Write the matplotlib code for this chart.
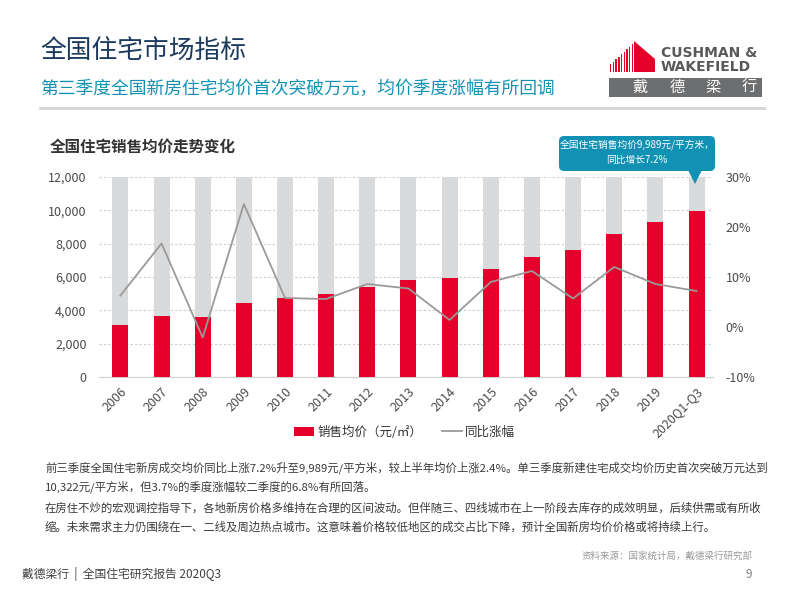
import matplotlib.pyplot as plt
from matplotlib.patches import Patch, FancyBboxPatch, Polygon, Rectangle
from matplotlib.lines import Line2D
from matplotlib.ticker import FuncFormatter

plt.rcParams['font.family'] = ['Noto Sans CJK SC', 'DejaVu Sans']

years = ['2006', '2007', '2008', '2009', '2010', '2011', '2012', '2013',
         '2014', '2015', '2016', '2017', '2018', '2019', '2020Q1-Q3']
price = [3119, 3645, 3576, 4459, 4725, 4993, 5430, 5850,
         5933, 6473, 7203, 7614, 8553, 9310, 9989]
growth = [6.3, 16.7, -2.1, 24.6, 5.8, 5.6, 8.6, 7.7,
          1.4, 9.0, 11.2, 5.7, 12.0, 8.6, 7.2]

red = '#e4002b'
bg_gray = '#d9dadb'
line_gray = '#9a9a9a'
teal = '#1192b5'
navy = '#1b3a5e'
tick_col = '#4a4a4a'

fig = plt.figure(figsize=(8, 6), dpi=100)
fig.patch.set_facecolor('white')

# chart
ax = fig.add_axes([99 / 800, 1 - 377 / 600, 614 / 800, 200 / 600])
x = list(range(len(years)))
ax.bar(x, [12000] * len(x), width=0.39, color=bg_gray, zorder=2)
ax.bar(x, price, width=0.39, color=red, zorder=3)
ax.set_ylim(0, 12000)
ax.set_xlim(-0.52, 14.4)
ax.set_yticks(range(0, 12001, 2000))
ax.yaxis.set_major_formatter(FuncFormatter(lambda v, p: f'{int(v):,}'))
ax.grid(axis='y', color='#cccccc', linestyle=(0, (2, 2)), linewidth=0.8, zorder=1)
for s in ['top', 'right', 'left']:
    ax.spines[s].set_visible(False)
ax.spines['bottom'].set_color('#d0d0d0')
ax.tick_params(axis='both', length=0, colors=tick_col, labelsize=9)
ax.tick_params(axis='y', pad=9)
ax.set_xticks(x)
ax.set_xticklabels(years, rotation=45, ha='right', rotation_mode='anchor')
ax.tick_params(axis='x', pad=6)

ax2 = ax.twinx()
ax2.plot(x, growth, color=line_gray, linewidth=1.3, zorder=5)
ax2.set_ylim(-10, 30)
ax2.set_yticks(range(-10, 31, 10))
ax2.yaxis.set_major_formatter(FuncFormatter(lambda v, p: f'{int(v)}%'))
for s in ax2.spines.values():
    s.set_visible(False)
ax2.tick_params(axis='y', length=0, colors=tick_col, labelsize=9, pad=9)

handles = [Patch(facecolor=red, edgecolor='none'),
           Line2D([0], [0], color=line_gray, linewidth=1.3)]
fig.legend(handles, ['销售均价（元/㎡）', '同比涨幅'], ncol=2, frameon=False,
           loc='center left', bbox_to_anchor=(283 / 800, 1 - 432 / 600),
           fontsize=9, handlelength=1.6, handletextpad=0.3, columnspacing=1.5,
           labelcolor='#333333')

# overlay in pixel coordinates
ov = fig.add_axes([0, 0, 1, 1])
ov.set_xlim(0, 800)
ov.set_ylim(600, 0)
ov.axis('off')
ov.patch.set_alpha(0)

ov.text(40, 52, '全国住宅市场指标', fontsize=18.5, color=navy, va='center', ha='left')
ov.text(40, 89, '第三季度全国新房住宅均价首次突破万元，均价季度涨幅有所回调',
        fontsize=12.8, color=teal, va='center', ha='left')
ov.plot([40, 764], [108, 108], color='#d4d4d4', linewidth=2)

# logo
for i in range(9):
    xs = 610 + i * 2.7
    top = 64 - i * 2.5
    ov.add_patch(Rectangle((xs, top), 1.4, 72 - top, color=red, lw=0))
ov.add_patch(Polygon([(634, 72), (634, 41), (655, 59), (655, 72)], closed=True,
                     color=red, lw=0))
ov.text(661, 53, 'CUSHMAN &', fontsize=10, fontweight='bold', color='#58595b',
        va='center', ha='left', family='DejaVu Sans')
ov.text(661, 67, 'WAKEFIELD', fontsize=10, fontweight='bold', color='#58595b',
        va='center', ha='left', family='DejaVu Sans')
ov.add_patch(Rectangle((609, 78), 153, 19, color='#6d6e70', lw=0))
for cx, ch in zip([640, 677, 713, 749], '戴德梁行'):
    ov.text(cx, 87.5, ch, fontsize=11, color='white', va='center', ha='center')

ov.text(50, 147, '全国住宅销售均价走势变化', fontsize=11.2, fontweight='bold',
        color='#333333', va='center', ha='left')

# callout
ov.add_patch(FancyBboxPatch((559, 136), 156, 35, boxstyle='round,pad=0,rounding_size=5',
                            color=teal, lw=0))
ov.add_patch(Polygon([(688, 170), (702, 170), (695, 184)], closed=True, color=teal, lw=0))
ov.text(637, 145, '全国住宅销售均价9,989元/平方米，', fontsize=7, color='white',
        va='center', ha='center')
ov.text(637, 160, '同比增长7.2%', fontsize=7, color='white', va='center', ha='center')

body = [
    (468, '前三季度全国住宅新房成交均价同比上涨7.2%升至9,989元/平方米，较上半年均价上涨2.4%。单三季度新建住宅成交均价历史首次突破万元达到'),
    (487, '10,322元/平方米，但3.7%的季度涨幅较二季度的6.8%有所回落。'),
    (508, '在房住不炒的宏观调控指导下，各地新房价格多维持在合理的区间波动。但伴随三、四线城市在上一阶段去库存的成效明显，后续供需或有所收'),
    (527, '缩。未来需求主力仍围绕在一、二线及周边热点城市。这意味着价格较低地区的成交占比下降，预计全国新房均价价格或将持续上行。'),
]
for yy, t in body:
    ov.text(45, yy, t, fontsize=8.2, color='#3a3a3a', va='center', ha='left')

ov.text(752, 556, '资料来源：国家统计局，戴德梁行研究部', fontsize=6.8, color='#9a9a9a',
        va='center', ha='right')
ov.text(22, 574, '戴德梁行  |  全国住宅研究报告 2020Q3', fontsize=8.5, color='#404040',
        va='center', ha='left')
ov.text(752, 574, '9', fontsize=8.5, color='#808080', va='center', ha='right')

fig.savefig('out.png', dpi=100)
